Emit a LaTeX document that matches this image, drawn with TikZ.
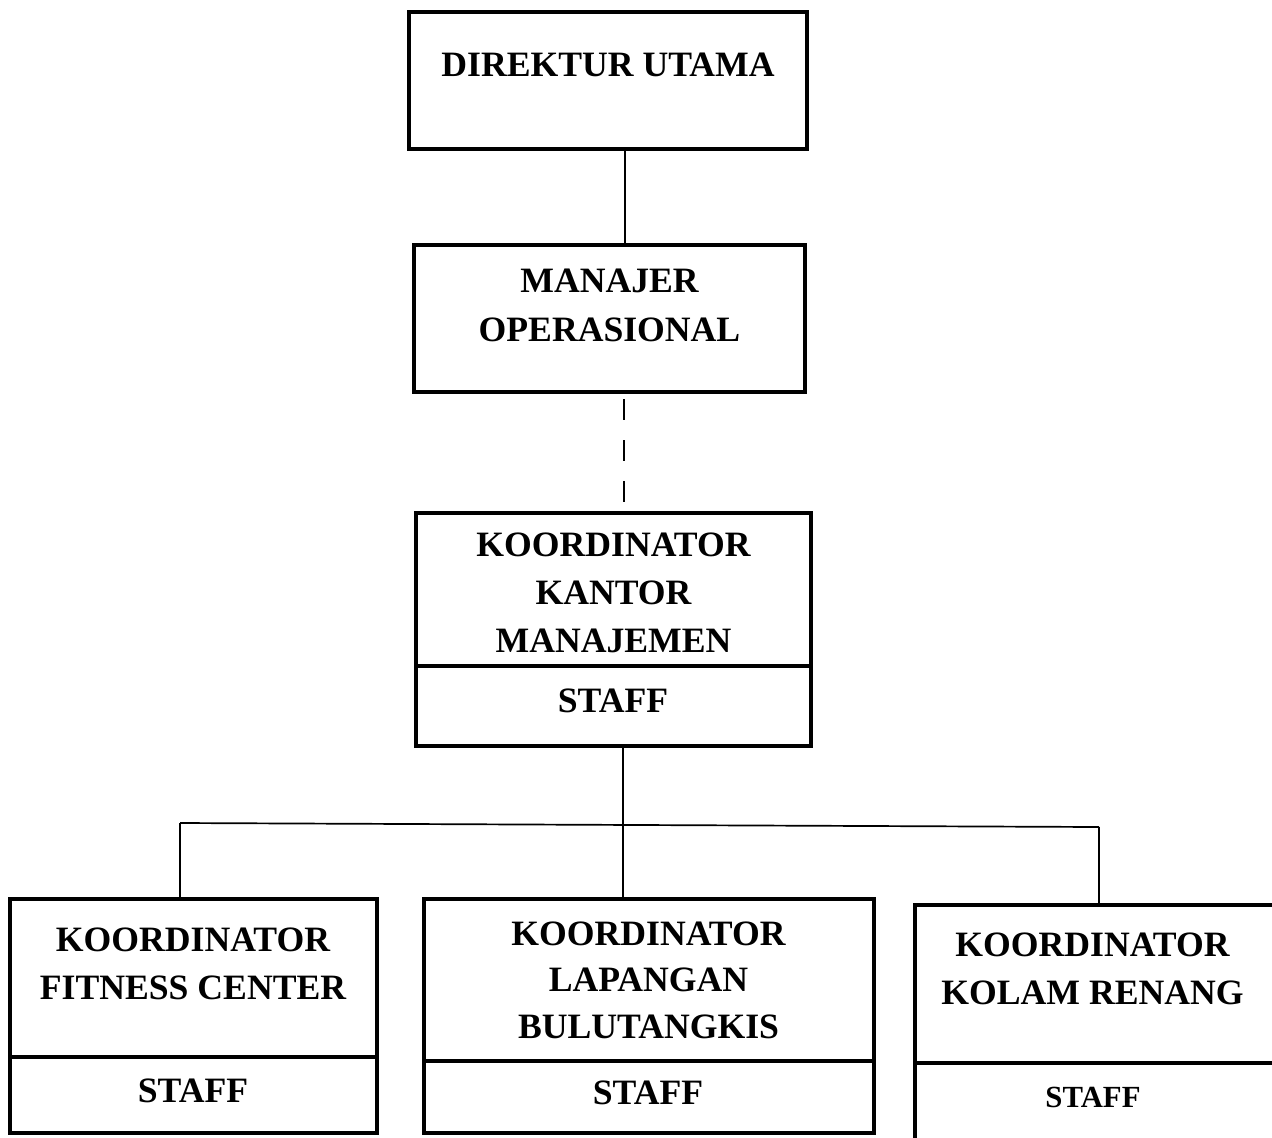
\documentclass[tikz,border=0pt]{standalone}
\usepackage{fontspec}
\setmainfont{Liberation Serif}
\begin{document}
\def\u{0.02cm}
\begin{tikzpicture}[x=0.02cm,y=-0.02cm,
  box/.style={draw,line width=4*\u,inner sep=0,outer sep=0,rectangle},
  txt/.style={inner sep=0,outer sep=0,align=center,font=\fontsize{20.3pt}{27.3pt}\selectfont\bfseries},
  conn/.style={line width=1.7*\u}]
\useasboundingbox (0,0) rectangle (1272,1137);
\clip (0,0) rectangle (1272,1137);
% boxes
\node[box,minimum width=398*\u,minimum height=137*\u] (dir) at (608,80.5) {};
\node[box,minimum width=391*\u,minimum height=147*\u] (man) at (609.5,318.5) {};
\node[box,minimum width=395*\u,minimum height=153*\u] (kk) at (613.5,589.5) {};
\node[box,minimum width=395*\u,minimum height=80*\u] (kks) at (613.5,706) {};
\node[box,minimum width=367*\u,minimum height=158*\u] (fc) at (193.5,978) {};
\node[box,minimum width=367*\u,minimum height=76*\u] (fcs) at (193.5,1095) {};
\node[box,minimum width=450*\u,minimum height=162*\u] (lb) at (649,980) {};
\node[box,minimum width=450*\u,minimum height=72*\u] (lbs) at (649,1097) {};
\node[box,minimum width=361*\u,minimum height=158*\u] (kr) at (1095.5,984) {};
\node[box,minimum width=361*\u,minimum height=97*\u] (krs) at (1095.5,1111.5) {};
% texts
\node[txt] (tdir) at (608,65) {DIREKTUR UTAMA};
\node[txt,font=\fontsize{20.3pt}{28pt}\selectfont\bfseries] (tman) at (609.5,305.5) {MANAJER\\OPERASIONAL};
\node[txt] (tkk) at (613.5,593) {KOORDINATOR\\KANTOR\\MANAJEMEN};
\node[txt] (tkks) at (613,701) {STAFF};
\node[txt] (tfc) at (193,964) {KOORDINATOR\\FITNESS CENTER};
\node[txt] (tfcs) at (193,1091) {STAFF};
\node[txt,font=\fontsize{20.3pt}{26.5pt}\selectfont\bfseries] (tlb) at (648.5,980) {KOORDINATOR\\LAPANGAN\\BULUTANGKIS};
\node[txt] (tlbs) at (648,1093) {STAFF};
\node[txt] (tkr) at (1092.5,969) {KOORDINATOR\\KOLAM RENANG};
\node[txt,font=\fontsize{17.5pt}{21pt}\selectfont\bfseries] (tkrs) at (1093,1097) {STAFF};
% connectors
\draw[conn] (625,0 |- dir.south) -- (625,0 |- man.north);
\draw[conn,dash pattern=on 21*\u off 20*\u,shorten <=7*\u,shorten >=11*\u] (624,0 |- man.south) -- (624,0 |- kk.north);
\coordinate (hl) at (180,823);
\coordinate (hr) at (1099,827);
\draw[conn] (623,0 |- kks.south) -- (623,0 |- lb.north);
\draw[conn] (hl) -- (hr);
\draw[conn] (hl) -- (hl |- fc.north);
\draw[conn] (hr) -- (hr |- kr.north);
\end{tikzpicture}
\end{document}
